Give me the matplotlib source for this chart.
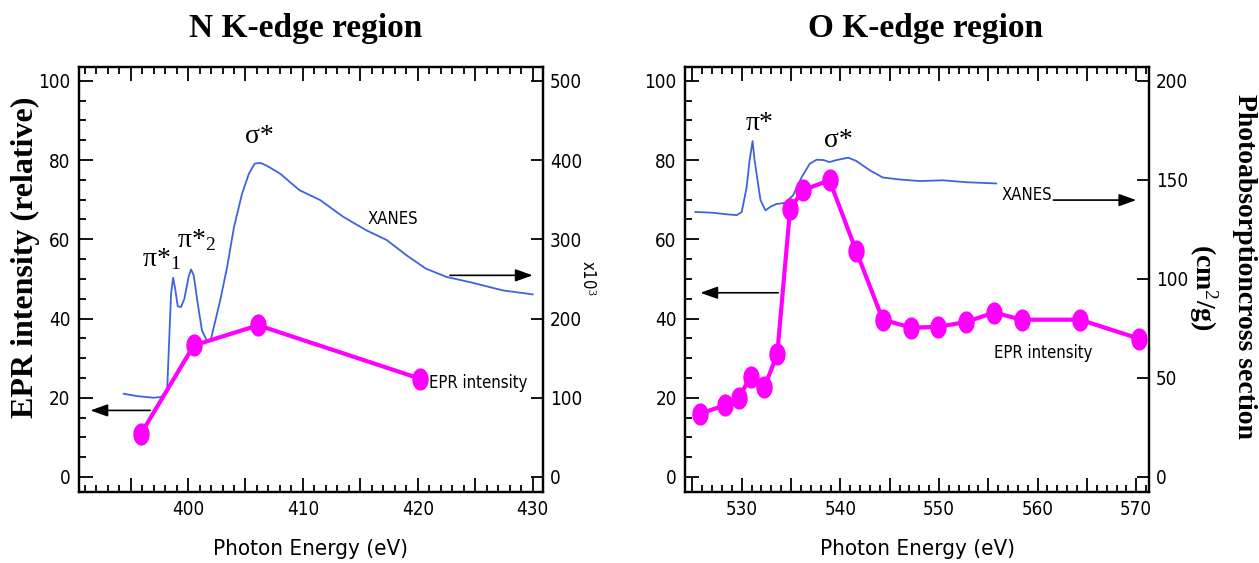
import matplotlib
matplotlib.use("Agg")
import matplotlib.pyplot as plt
from matplotlib.ticker import MultipleLocator, FuncFormatter
import numpy as np

plt.rcParams['mathtext.fontset'] = 'custom'
plt.rcParams['mathtext.rm'] = 'Liberation Serif'
plt.rcParams['mathtext.it'] = 'Liberation Serif'

SERIF = ['Liberation Serif', 'DejaVu Serif']
NARROW = ['DejaVu Sans']
STRETCH = 'condensed'

# N K-edge: XANES (right axis, x10^3) and EPR intensity (left axis)
n_xanes_e = [394.4, 395.6, 397.0, 397.7, 398.18, 398.52, 398.70, 398.90, 399.10, 399.39,
             399.68, 400.06, 400.26, 400.49, 400.84, 401.21, 401.65, 402.0, 402.8, 403.4,
             404.0, 404.7, 405.3, 405.8, 406.3, 406.9, 408.0, 409.7, 411.5, 413.5,
             415.5, 417.3, 419.0, 420.7, 422.5, 424.8, 427.4, 430.0]
n_xanes = [105, 102, 100, 101, 109.5, 231.5, 251.5, 235.5, 215.5, 214.5,
           225, 253.5, 262, 254.5, 219, 185, 171.5, 174.5, 223, 265,
           315.5, 357.5, 383, 395.5, 396.5, 392.5, 383, 362, 349.5, 328.5,
           311.5, 299, 280, 263, 252.5, 245, 235.5, 230.5]
n_epr_e = [395.9, 400.5, 406.1, 420.2]
n_epr = [10.9, 33.2, 38.3, 24.8]

# O K-edge
o_xanes_e = [525.3, 527.1, 528.5, 529.5, 530.0, 530.5, 530.8, 531.1, 531.3, 531.9,
             532.4, 532.9, 533.5, 534.4, 535.2, 536.1, 536.9, 537.6, 538.3, 538.9,
             539.6, 540.8, 541.6, 543.0, 544.3, 546.0, 548.1, 550.4, 552.8, 555.8]
o_xanes = [133.8, 133.4, 132.6, 132.2, 133.8, 146.4, 160, 169.6, 160, 139.8,
           134.6, 136.4, 137.8, 138.4, 142.2, 151.6, 158.2, 160.2, 160, 159,
           160, 161.2, 159.6, 154.8, 151.2, 150.2, 149.4, 149.8, 148.8, 148.2]
o_epr_e = [525.8, 528.3, 529.7, 530.9, 532.3, 533.6, 534.9, 536.2, 538.9, 541.6,
           544.3, 547.2, 549.9, 552.7, 555.6, 558.4, 564.3, 570.3]
o_epr = [16.0, 18.1, 20.0, 25.3, 22.7, 31.0, 67.6, 72.4, 74.9, 57.1,
         39.7, 37.7, 37.9, 39.1, 41.5, 39.7, 39.7, 34.9]

BLUE = '#3f63dc'
MAGENTA = '#ff00ff'

t = np.linspace(0, 2 * np.pi, 41)
ellipse = np.column_stack([0.72 * np.cos(t), np.sin(t)])

fig = plt.figure(figsize=(12.59, 5.63), dpi=100)


def setup(ax, ax2, xlim, rmax, rstep):
    ax.set_zorder(ax2.get_zorder() + 1)
    ax.patch.set_visible(False)
    ax.set_xlim(*xlim)
    ax.set_ylim(-3.8, 103.5)
    ax2.set_ylim(-3.8 * rmax / 100, 103.5 * rmax / 100)
    ax.xaxis.set_major_locator(MultipleLocator(5))
    ax.xaxis.set_minor_locator(MultipleLocator(1))
    ax.xaxis.set_major_formatter(FuncFormatter(lambda v, p: f'{v:.0f}' if round(v) % 10 == 0 else ''))
    ax.yaxis.set_major_locator(MultipleLocator(20))
    ax.yaxis.set_minor_locator(MultipleLocator(5))
    ax2.yaxis.set_major_locator(MultipleLocator(rstep))
    ax2.yaxis.set_minor_locator(plt.NullLocator())
    ax.tick_params(which='both', direction='in', top=True, right=False, width=1.3)
    ax.tick_params(which='major', length=10, pad=6)
    ax.tick_params(which='minor', length=5)
    ax2.tick_params(direction='in', length=9, width=1.3, pad=5)
    for a in (ax, ax2):
        for s in a.spines.values():
            s.set_linewidth(1.6)
        for lab in a.get_xticklabels() + a.get_yticklabels():
            lab.set_family(NARROW)
            lab.set_fontstretch(STRETCH)
            lab.set_fontsize(13.5)
    ax.set_xlabel('Photon Energy (eV)', family=NARROW, fontstretch=STRETCH, fontsize=16, labelpad=14)


def arrow(ax, x0, x1, y):
    ax.annotate('', xy=(x1, y), xytext=(x0, y),
                arrowprops=dict(arrowstyle='-|>,head_length=0.7,head_width=0.25',
                                color='black', lw=1.2, mutation_scale=15,
                                shrinkA=0, shrinkB=0))


def note(ax, x, y, s, **kw):
    ax.text(x, y, s, family=NARROW, fontstretch=STRETCH, fontsize=12, va='center', **kw)


# ---- left panel
ax = fig.add_axes([0.0627, 0.1261, 0.3686, 0.7549])
ax2 = ax.twinx()
ax2.plot(n_xanes_e, n_xanes, color=BLUE, lw=1.3)
ax.plot(n_epr_e, n_epr, color=MAGENTA, lw=3, marker=ellipse, ms=15, mec=MAGENTA, mfc=MAGENTA)
setup(ax, ax2, (390.5, 430.9), 500, 100)
arrow(ax, 396.7, 391.5, 16.8)
arrow(ax, 422.8, 430.0, 50.9)
ax.text(397.7, 55.0, r'π*$_1$', family=SERIF, fontsize=20, ha='center', va='center')
ax.text(400.7, 59.8, r'π*$_2$', family=SERIF, fontsize=20, ha='center', va='center')
ax.text(406.2, 85.9, 'σ*', family=SERIF, fontsize=20, ha='center', va='center')
note(ax, 417.8, 65.2, 'XANES', ha='center')
note(ax, 421.0, 23.7, 'EPR intensity', ha='left')
ax.text(1.095, 0.504, 'x10$^3$', family=NARROW, fontstretch=STRETCH, fontsize=12, rotation=270,
        ha='center', va='center', transform=ax.transAxes)

# ---- right panel
bx = fig.add_axes([0.5441, 0.1261, 0.3686, 0.7549])
bx2 = bx.twinx()
bx2.plot(o_xanes_e, o_xanes, color=BLUE, lw=1.3)
bx.plot(o_epr_e, o_epr, color=MAGENTA, lw=3, marker=ellipse, ms=15, mec=MAGENTA, mfc=MAGENTA)
setup(bx, bx2, (524.25, 571.3), 200, 50)
arrow(bx, 533.7, 525.8, 46.5)
arrow(bx, 561.6, 570.0, 69.9)
bx.text(531.8, 89.2, 'π*', family=SERIF, fontsize=20, ha='center', va='center')
bx.text(539.8, 84.9, 'σ*', family=SERIF, fontsize=20, ha='center', va='center')
note(bx, 558.9, 71.1, 'XANES', ha='center')
note(bx, 555.6, 31.3, 'EPR intensity', ha='left')

# titles and axis labels
fig.text(306 / 1259, 1 - 37 / 563, 'N K-edge region', family=SERIF, fontsize=24,
         fontweight='bold', ha='center', va='baseline')
fig.text(925 / 1259, 1 - 37 / 563, 'O K-edge region', family=SERIF, fontsize=24,
         fontweight='bold', ha='center', va='baseline')
fig.text(25 / 1259, 1 - 257 / 563, 'EPR intensity (relative)', family=SERIF, fontsize=23,
         fontweight='bold', rotation=90, ha='center', va='center')
fig.text(1245 / 1259, 1 - 266 / 563, 'Photoabsorptioncross section', family=SERIF,
         fontsize=20, fontweight='bold', rotation=270, ha='center', va='center')
fig.text(1203 / 1259, 1 - 287 / 563, '(cm$^2$/g)', family=SERIF,
         fontsize=20, fontweight='bold', rotation=270, ha='center', va='center')

fig.savefig('out.png', dpi=100)
